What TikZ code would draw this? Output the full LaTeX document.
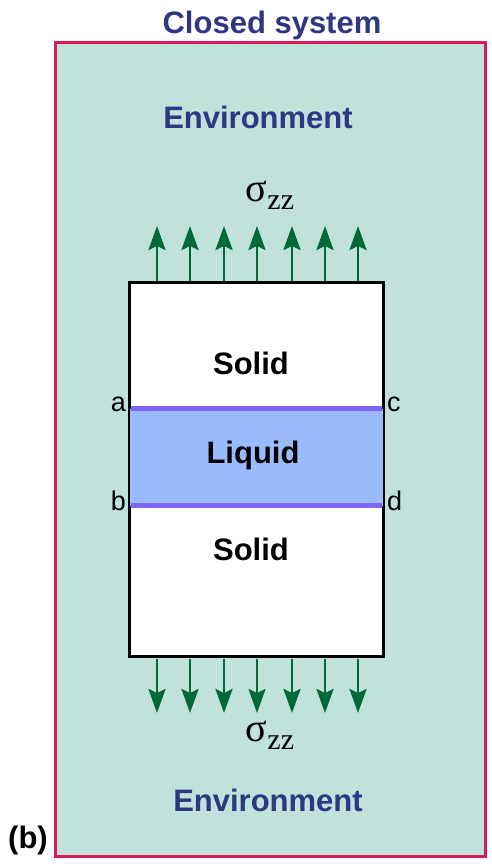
\documentclass[tikz,border=0pt]{standalone}
\usepackage{fontspec}
\setmainfont{Liberation Sans}
\newfontfamily\greekserif{Liberation Serif}
\definecolor{sysred}{RGB}{215, 25, 90}
\definecolor{envgreen}{RGB}{192, 226, 219}
\definecolor{labelblue}{RGB}{45, 55, 130}
\definecolor{stressgreen}{RGB}{0, 105, 55}
\definecolor{liqblue}{RGB}{155, 187, 255}
\definecolor{ifviolet}{RGB}{128, 100, 250}
\usetikzlibrary{arrows.meta, positioning}

\begin{document}
\begin{tikzpicture}[x=1pt, y=1pt,
  envlabel/.style={text=labelblue, font=\fontsize{31}{31}\selectfont\bfseries},
  phaselabel/.style={font=\fontsize{31}{31}\selectfont\bfseries},
  cornerlabel/.style={font=\fontsize{27}{27}\selectfont, inner sep=1pt},
  stressarrow/.style={draw=stressgreen, line width=2.7pt, -{Stealth[length=24pt, width=17pt, inset=4pt]}},
  iface/.style={draw=ifviolet, line width=5pt}]
  \useasboundingbox (0,0) rectangle (491,867);

  % Closed system boundary
  \node[draw=sysred, fill=envgreen, line width=3pt, minimum width=430pt, minimum height=814pt, inner sep=0pt] (system) at (270, 417) {};
  \node[envlabel] (title) at (272, 842) {Closed system};
  \node[envlabel] (envtop) at (258, 750) {Environment};
  \node[envlabel] (envbot) at (268, 67) {Environment};
  \node[font=\fontsize{31}{31}\selectfont\bfseries] (tag) at (28, 27) {(b)};

  % Sample: solid / liquid / solid
  \node[draw, fill=white, line width=2pt, minimum width=253pt, minimum height=373pt, inner sep=0pt] (sample) at (256.5, 397.5) {};
  \fill[liqblue] (130, 458) rectangle (383, 361);
  \coordinate (a) at (131, 458);
  \coordinate (c) at (382, 458);
  \coordinate (b) at (131, 361);
  \coordinate (d) at (382, 361);
  \draw[iface] (a) -- (c);
  \draw[iface] (b) -- (d);
  \draw[line width=2pt] (sample.north west) rectangle (sample.south east);

  \node[phaselabel] (soltop) at (251, 504) {Solid};
  \node[phaselabel] (liq) at (253, 412) {Liquid};
  \node[phaselabel] (solbot) at (251, 318) {Solid};

  \node[cornerlabel, left=4pt of a, yshift=5pt] (la) {a};
  \node[cornerlabel, right=4pt of c, yshift=5pt] (lc) {c};
  \node[cornerlabel, left=4pt of b, yshift=5pt] (lb) {b};
  \node[cornerlabel, right=4pt of d, yshift=5pt] (ld) {d};

  % Applied stress
  \foreach \x [count=\i] in {157, 190, 224, 257, 292, 325, 358} {
    \coordinate (up\i) at (\x, 586);
    \coordinate (uptip\i) at (\x, 641);
    \coordinate (dn\i) at (\x, 208);
    \coordinate (dntip\i) at (\x, 154);
    \draw[stressarrow] (up\i) -- (uptip\i);
    \draw[stressarrow] (dn\i) -- (dntip\i);
  }
  \node[font=\greekserif\fontsize{40}{40}\selectfont] (sigtop) at (270, 672) {σ\raisebox{-8pt}{\fontsize{30}{30}\selectfont zz}};
  \node[font=\greekserif\fontsize{40}{40}\selectfont] (sigbot) at (270, 132) {σ\raisebox{-8pt}{\fontsize{30}{30}\selectfont zz}};
\end{tikzpicture}
\end{document}
